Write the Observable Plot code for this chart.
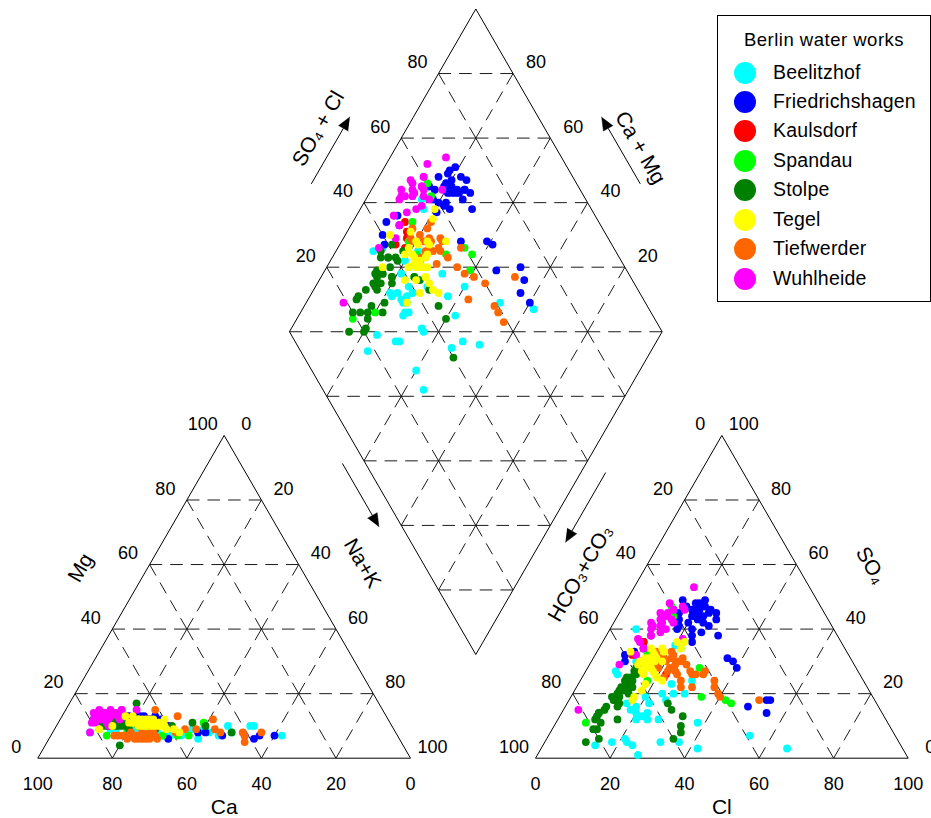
<!DOCTYPE html>
<html>
<head>
<meta charset="utf-8">
<script src="https://cdn.jsdelivr.net/npm/d3@7"></script>
<script src="https://cdn.jsdelivr.net/npm/@observablehq/plot@0.6"></script>
<style>
  body { margin: 0; background: #fff; font-family: "Liberation Sans", Arial, Helvetica, sans-serif; }
  #wrap { position: relative; width: 931px; height: 818px; overflow: hidden; }
  #legend { position: absolute; left: 717px; top: 15px; width: 214px; height: 287px; box-sizing: border-box;
            border: 1px solid #000; background: #fff; }
  #legend .title { position: absolute; left: 0; width: 100%; top: 13px; text-align: center; font-size: 18.5px; letter-spacing: 0.5px; color: #000; }
  #legend .item { position: absolute; left: 0; height: 24px; width: 100%; }
  #legend .dot { position: absolute; left: 16px; top: 1px; width: 22px; height: 22px; border-radius: 50%; }
  #legend .lab { position: absolute; left: 55px; top: 0px; font-size: 19.5px; letter-spacing: 0.2px; line-height: 22px; color: #000; }
</style>
</head>
<body>
<div id="wrap"><div id="chart"></div><div id="legend"></div></div>
<script>
// ---------------- data ----------------
const waterWorks = ["Beelitzhof", "Friedrichshagen", "Kaulsdorf", "Spandau", "Stolpe", "Tegel", "Tiefwerder", "Wuhlheide"];
const worksColors = ["#00FFFF", "#0000FF", "#FF0000", "#00FF00", "#008000", "#FFFF00", "#FF6600", "#FF00FF"];

// each sample: [Mg %, Na+K %, Cl %, SO4 %]  (meq %; Ca = 100 - Mg - Na+K, HCO3+CO3 = 100 - Cl - SO4)
const beelitzhof = [
  [8,25,9,26],[8,24,18,5],[7,24,14,4],[8,36,23,13],[6,40,24,4],[7,45,22,5],[10,46,36,5],[8,48,42,3],
  [10,52,54,7],[7,62,66,3],[9,40,30,24],[8,42,27,20],[9,37,25,23],[8,17,20,35],[9,15,22,34],[8,25,20,19],
  [7,27,22,17],[8,24,24,20],[7,30,21,6],[7,31,27,1],[8,22,7,40],[8,10,8,27],[8,26,23,14],[8,28,21,12],
  [9,21,27,12],[9,12,14,24],[10,53,38,11],[7,30,26,18],[8,20,12,30],[7,32,30,20],[7,35,31,5],
  [8,22,18,15],[7,26,19,16],[8,28,20,14],[9,23,17,18],[7,29,22,13],[8,21,16,17],[8,27,24,12]
];
const friedrichshagen = [
  [12,20,20,44],[11,22,22,43],[12,19,19,46],[13,21,21,45],[12,23,24,42],[11,18,18,41],[12,24,23,44],
  [13,20,20,47],[12,22,22,40],[11,21,25,39],[12,18,19,48],[13,25,24,45],[12,20,17,43],[11,23,21,46],
  [12,26,26,41],[12,19,15,49],[13,22,23,38],[11,24,20,42],[12,17,16,45],[12,21,18,40],
  [12,10,8,32],[11,12,9,30],[12,9,10,33],[11,13,12,34],[12,11,11,36],
  [8,39,36,31],[8,41,38,30],[7,46,49,16],[7,52,54,18],[6,55,53,18],[7,60,55,14],[7,56,40,28],
  [10,30,30,38],[6,32,24,36],
  [12,16,17,47],[13,18,20,48],[12,22,24,46],[11,25,22,47],[12,27,27,43],[13,15,14,46],[12,24,26,45],[11,19,21,49]
];
const kaulsdorf = [
  [12,15,10,32],[13,17,12,34],[11,14,22,26],[12,18,14,30],[12,16,11,36]
];
const spandau = [
  [7,15,8,11],[7,30,35,19],[7,34,42,18],[7,37,44,17],[11,39,30,28],[8,20,11,15],[12,14,13,47],
  [12,16,12,38],[11,18,14,32],[10,22,16,30],[7,25,18,24],[13,17,15,44]
];
const stolpe = [
  [12,15,13,25],[11,16,12,22],[12,14,13,28],[10,17,12,20],[11,15,14,24],[12,18,13,27],[11,16,11,19],
  [10,15,12,18],[12,17,14,26],[11,19,13,23],[10,14,12,21],[11,18,13,30],[12,16,14,17],[17,18,10,14],
  [4,20,11,9],[10,16,11,5],[11,14,14,6],[9,20,12,9],[10,22,16,12],[11,36,27,17],[10,40,29,15],
  [8,48,34,6],[10,31,34,10],[9,27,35,8],[11,24,33,13],[12,13,10,14],[11,21,14,16],[10,25,13,29],
  [11,12,15,22],[10,19,12,11],
  [11,14,11,16],[12,15,12,20],[10,13,10,13],[11,17,12,18],[12,16,13,21],[10,18,11,15],[11,13,12,24],
  [12,19,14,22],[11,16,10,12],[10,14,13,19],[12,17,12,25],[11,20,15,20]
];
const tegel = [
  [11,24,16,30],[10,26,15,31],[12,22,17,28],[11,25,16,32],[10,28,18,27],[12,23,15,29],[11,27,17,30],
  [9,30,19,26],[12,21,14,31],[10,24,16,28],[11,20,15,33],[13,19,13,30],[9,32,20,25],[10,29,18,23],
  [12,25,16,29],[11,23,18,21],[10,27,17,19],[8,34,22,24],[13,17,14,34],[11,22,16,26],[9,12,9,33],
  [10,15,17,18],[12,28,22,34],[11,26,15,27],[10,22,13,29],[12,21,20,36],[11,20,22,36],
  [11,21,17,31],[10,23,18,33],[12,24,17,34],[11,19,16,29],[10,25,19,30]
];
const tiefwerder = [
  [7,22,20,30],[6,25,22,28],[7,20,19,31],[8,24,24,27],[6,27,21,32],[7,18,18,29],[6,23,25,26],
  [7,28,23,30],[8,21,20,33],[6,26,27,24],[7,19,22,25],[6,29,28,22],[7,24,19,28],[15,24,18,31],
  [13,31,24,30],[9,35,28,27],[9,38,30,26],[12,41,32,26],[9,43,31,22],[8,45,36,24],[8,51,37,22],
  [5,53,39,20],[8,56,40,19],[7,52,51,18],[8,33,32,27],[7,17,16,33],[8,26,29,26],[6,21,26,29],
  [7,23,21,31],[6,24,23,29],[7,21,22,27],[8,27,24,31]
];
const wuhlheide = [
  [13,10,12,44],[14,11,13,42],[12,9,11,40],[15,12,14,46],[13,13,12,38],[11,10,10,36],[14,14,15,43],
  [12,12,13,41],[15,9,11,45],[13,15,14,39],[11,13,12,34],[14,8,10,42],[12,16,15,40],[13,11,16,47],
  [15,15,13,44],[10,14,11,32],[12,10,9,37],[14,12,12,48],[13,17,16,42],[15,15,16,53],[8,10,4,15],
  [15,19,17,46],[12,11,8,29],[14,13,21,37],[11,9,12,38],[13,12,12,43],[14,10,11,41],[12,13,13,45]
];
const samplesByWorks = [beelitzhof, friedrichshagen, kaulsdorf, spandau, stolpe, tegel, tiefwerder, wuhlheide];
const drawOrder = ["Beelitzhof", "Friedrichshagen", "Kaulsdorf", "Spandau", "Stolpe", "Wuhlheide", "Tiefwerder", "Tegel"];

const tickValues = [0, 20, 40, 60, 80, 100];
const innerTicks = [20, 40, 60, 80];

// ---------------- layout (units: triangle side = 100) ----------------
const S = 3.727;                 // px per unit
const X0 = 37.3, Y0 = 757.7;     // px of cation triangle's lower-left corner
const H = Math.sqrt(3) / 2;
const ANION_X = 133.54;          // anion triangle origin (units)
const DB = [117.52, 27.82];      // diamond bottom vertex (units)
const DL = [DB[0] - 50, DB[1] + 100 * H], DR = [DB[0] + 50, DB[1] + 100 * H], DT = [DB[0], DB[1] + 200 * H];
const cationC = [50, 100 * H / 3], anionC = [ANION_X + 50, 100 * H / 3], diaC = [DB[0], DB[1] + 100 * H];

// ---------------- points ----------------
const points = [];
for (const name of drawOrder) {
  const rows = samplesByWorks[waterWorks.indexOf(name)];
  for (const [mg, na, cl, so4] of rows) {
    points.push({name, x: na + mg / 2, y: mg * H});                         // cations
    points.push({name, x: ANION_X + cl + so4 / 2, y: so4 * H});             // anions
    const a = (100 - na) / 100, s = (cl + so4) / 100;                        // Ca+Mg, SO4+Cl
    points.push({name, x: DB[0] + 50 * (s - a), y: DB[1] + 100 * H * (a + s)}); // diamond
  }
}

// ---------------- grid ----------------
const edges = [], inner = [];
function seg(p, q, isEdge) { (isEdge ? edges : inner).push({x1: p[0], y1: p[1], x2: q[0], y2: q[1]}); }
function triangleGrid(ox) {
  const P = (i, j) => [ox + 20 * i + 10 * j, 20 * H * j];
  for (let i = 0; i <= 5; i++) for (let j = 0; i + j < 5; j++) {
    seg(P(i, j), P(i + 1, j), j === 0);
    seg(P(i, j), P(i, j + 1), i === 0);
    seg(P(i + 1, j), P(i, j + 1), i + j + 1 === 5);
  }
}
triangleGrid(0);
triangleGrid(ANION_X);
{
  const Q = (i, j) => [DB[0] - 10 * i + 10 * j, DB[1] + 20 * H * (i + j)];
  for (let i = 0; i <= 5; i++) for (let j = 0; j <= 5; j++) {
    if (i < 5) seg(Q(i, j), Q(i + 1, j), j === 0 || j === 5);
    if (j < 5) seg(Q(i, j), Q(i, j + 1), i === 0 || i === 5);
    if (i >= 1 && j <= 4) seg(Q(i, j), Q(i - 1, j + 1), false);
  }
}

// helpers: point along edge P->Q at fraction t, pushed outward (away from centre c) by px
function along(P, Q, t, px, c) {
  const dx = Q[0] - P[0], dy = Q[1] - P[1], len = Math.hypot(dx, dy);
  let nx = -dy / len, ny = dx / len;
  const mx = P[0] + t * dx, my = P[1] + t * dy;
  if (nx * (mx - c[0]) + ny * (my - c[1]) < 0) { nx = -nx; ny = -ny; }
  return [mx + nx * px / S, my + ny * px / S];
}
const off = (p, dxPx, dyPx) => [p[0] + dxPx / S, p[1] - dyPx / S];

// ---------------- tick labels ----------------
const tickLabels = [];
for (const v of tickValues) {
  tickLabels.push({p: off([100 - v, 0], 0, 26), t: v});                         // Ca
  tickLabels.push({p: off([v / 2, v * H], -21.5, -11), t: v});                  // Mg
  tickLabels.push({p: off([50 + v / 2, H * (100 - v)], 22, -11), t: v});         // Na+K
  tickLabels.push({p: off([ANION_X + v, 0], 0, 26), t: v});                     // Cl
  tickLabels.push({p: off([ANION_X + (100 - v) / 2, H * (100 - v)], -21.5, -11), t: v}); // HCO3+CO3
  tickLabels.push({p: off([ANION_X + 100 - v / 2, H * v], 22, -11), t: v});     // SO4
}
for (const v of innerTicks) {
  tickLabels.push({p: off([DL[0] + v / 2, DL[1] + H * v], -21, -11), t: v});   // SO4+Cl
  tickLabels.push({p: off([DT[0] + (100 - v) / 2, DT[1] - H * (100 - v)], 23, -11), t: v}); // Ca+Mg
}

// ---------------- axis titles ----------------
const titles = [
  {p: off([50, 0], 0, 49), t: "Ca", r: 0},
  {p: off([ANION_X + 50, 0], 0, 49), t: "Cl", r: 0},
  {p: along([0, 0], [50, 100 * H], 0.5, 58, cationC), t: "Mg", r: -60},
  {p: along(DL, DB, 0.636, 52.7, diaC), t: "Na+K", r: 60},
  {p: along(DR, DB, 0.671, 50, diaC), t: "HCO\u2083+CO\u2083", r: -60},
  {p: along([ANION_X + 100, 0], [ANION_X + 50, 100 * H], 0.498, 64, anionC), t: "SO\u2084", r: 60},
  {p: along(DL, DT, 0.511, 76.5, diaC), t: "SO\u2084 + Cl", r: -60},
  {p: along(DR, DT, 0.457, 73, diaC), t: "Ca + Mg", r: 60}
];

// ---------------- arrows ----------------
const arrowDefs = [
  {P: DL, Q: DB, t0: 0.377, t1: 0.573, d: 20},
  {P: DR, Q: DB, t0: 0.403, t1: 0.619, d: 21.5},
  {P: DL, Q: DT, t0: 0.373, t1: 0.58, d: 55},
  {P: DR, Q: DT, t0: 0.373, t1: 0.58, d: 55}
];
const arrowLines = [], arrowHeads = [];
arrowDefs.forEach((a, k) => {
  const s = along(a.P, a.Q, a.t0, a.d, diaC), e = along(a.P, a.Q, a.t1, a.d, diaC);
  const dx = e[0] - s[0], dy = e[1] - s[1], len = Math.hypot(dx, dy);
  const ux = dx / len, uy = dy / len, hl = 13 / S, hw = 5.5 / S;
  const bx = e[0] - ux * hl, by = e[1] - uy * hl;
  arrowLines.push({x1: s[0], y1: s[1], x2: bx, y2: by});
  arrowHeads.push({id: k, x: e[0], y: e[1]}, {id: k, x: bx - uy * hw, y: by + ux * hw}, {id: k, x: bx + uy * hw, y: by - ux * hw});
});

// ---------------- plot ----------------
const font = "'Liberation Sans', Arial, Helvetica, sans-serif";
const chart = Plot.plot({
  width: 931, height: 818, margin: 0,
  x: {domain: [-X0 / S, (931 - X0) / S], axis: null},
  y: {domain: [(Y0 - 818) / S, Y0 / S], axis: null},
  color: {domain: waterWorks, range: worksColors},
  style: {fontFamily: font, background: "#fff", color: "#000"},
  marks: [
    Plot.link(inner, {x1: "x1", y1: "y1", x2: "x2", y2: "y2", stroke: "#000", strokeWidth: 0.9, strokeDasharray: "12.6,8"}),
    Plot.link(edges, {x1: "x1", y1: "y1", x2: "x2", y2: "y2", stroke: "#000", strokeWidth: 1}),
    Plot.link(arrowLines, {x1: "x1", y1: "y1", x2: "x2", y2: "y2", stroke: "#000", strokeWidth: 1}),
    Plot.line(arrowHeads, {x: "x", y: "y", z: "id", fill: "#000", stroke: "#000", strokeWidth: 0.5}),
    Plot.dot(points, {x: "x", y: "y", fill: "name", r: 3.9, stroke: null}),
    Plot.text(tickLabels, {x: d => d.p[0], y: d => d.p[1], text: d => String(d.t), fontSize: 18, fill: "#000", fontFamily: font}),
    Plot.text(titles, {x: d => d.p[0], y: d => d.p[1], text: "t", rotate: "r", fontSize: 21, fill: "#000", fontFamily: font})
  ]
});
document.getElementById("chart").appendChild(chart);

// ---------------- legend ----------------
const legend = document.getElementById("legend");
const tt = document.createElement("div");
tt.className = "title"; tt.textContent = "Berlin water works";
legend.appendChild(tt);
waterWorks.forEach((name, i) => {
  const it = document.createElement("div");
  it.className = "item";
  it.style.top = (44.5 + i * 29.45) + "px";
  it.innerHTML = `<div class="dot" style="background:${worksColors[i]}"></div><div class="lab">${name}</div>`;
  legend.appendChild(it);
});
</script>
</body>
</html>
